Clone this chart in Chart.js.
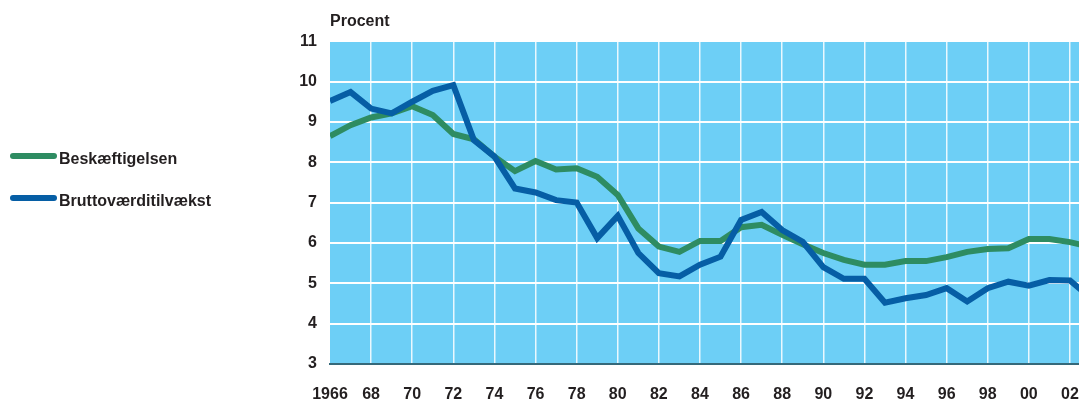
<!DOCTYPE html>
<html>
<head>
<meta charset="utf-8">
<script src="https://cdn.jsdelivr.net/npm/chart.js@4.4.1/dist/chart.umd.min.js"></script>
<style>
  html, body { margin: 0; padding: 0; background: #fff; overflow: hidden; }
  #wrap { position: relative; width: 1079px; height: 401px; }
  #legend { position: absolute; left: 10px; top: 0; font: bold 16px 'Liberation Sans', sans-serif; color: #231f20; }
  .item { position: absolute; left: 0; white-space: nowrap; height: 20px; line-height: 20px; }
  .swatch { position: absolute; left: 0; top: 7px; width: 47px; height: 6px; border-radius: 3px; }
  .item span.txt { position: absolute; left: 49px; top: 3px; }
</style>
</head>
<body>
<div id="wrap">
  <canvas id="chart" width="1079" height="401"></canvas>
  <div id="legend"></div>
</div>
<script>
const years = [1966, 1967, 1968, 1969, 1970, 1971, 1972, 1973, 1974, 1975, 1976, 1977, 1978,
  1979, 1980, 1981, 1982, 1983, 1984, 1985, 1986, 1987, 1988, 1989, 1990, 1991, 1992,
  1993, 1994, 1995, 1996, 1997, 1998, 1999, 2000, 2001, 2002, 2003];

const beskaeftigelsen = [8.65, 8.92, 9.11, 9.21, 9.39, 9.17, 8.70, 8.57, 8.14, 7.78, 8.03, 7.82, 7.85,
  7.64, 7.19, 6.36, 5.91, 5.78, 6.05, 6.05, 6.39, 6.45, 6.20, 5.97, 5.75, 5.58, 5.46,
  5.46, 5.55, 5.55, 5.65, 5.78, 5.85, 5.87, 6.10, 6.10, 6.02, 5.90];

const bruttovaerditilvaekst = [9.52, 9.74, 9.33, 9.21, 9.50, 9.77, 9.91, 8.55, 8.14, 7.35, 7.25, 7.06, 7.00,
  6.12, 6.67, 5.75, 5.25, 5.17, 5.46, 5.66, 6.57, 6.77, 6.32, 6.03, 5.40, 5.11, 5.11,
  4.52, 4.63, 4.71, 4.88, 4.55, 4.88, 5.04, 4.94, 5.08, 5.07, 4.64];

const seriesNames = ['Beskæftigelsen', 'Bruttoværditilvækst'];
const seriesColors = ['#2e8c62', '#065ea5'];

const yTicks = [3, 4, 5, 6, 7, 8, 9, 10, 11];

const textColor = '#231f20';
const plotBg = '#6dcff6';

Chart.defaults.font.family = "'Liberation Sans', sans-serif";
Chart.defaults.font.size = 16;
Chart.defaults.font.weight = 'bold';
Chart.defaults.color = textColor;

const plotBackground = {
  id: 'plotBackground',
  beforeDraw(chart) {
    const { ctx, chartArea } = chart;
    ctx.save();
    ctx.fillStyle = plotBg;
    ctx.fillRect(chartArea.left, chartArea.top, chartArea.right - chartArea.left, chartArea.bottom - chartArea.top);
    ctx.restore();
  }
};

const ctx = document.getElementById('chart').getContext('2d');
new Chart(ctx, {
  type: 'line',
  data: {
    labels: years,
    datasets: [
      {
        label: seriesNames[0],
        data: beskaeftigelsen,
        borderColor: seriesColors[0],
        borderWidth: 6,
        pointRadius: 0,
        tension: 0,
        fill: false,
        order: 1,
      },
      {
        label: seriesNames[1],
        data: bruttovaerditilvaekst,
        borderColor: seriesColors[1],
        borderWidth: 6,
        pointRadius: 0,
        tension: 0,
        fill: false,
        order: 0,
      },
    ],
  },
  options: {
    responsive: false,
    animation: false,
    layout: { padding: 0 },
    plugins: {
      legend: { display: false },
      tooltip: { enabled: false },
      title: {
        display: true,
        text: 'Procent',
        align: 'start',
        fullSize: false,
        color: textColor,
        font: { size: 16, weight: 'bold' },
        padding: { top: 12, bottom: 10 },
      },
    },
    scales: {
      x: {
        type: 'linear',
        min: 1966,
        max: 2002.44,
        grid: {
          color: c => (c.tick && c.tick.value === 1966 ? 'rgba(0,0,0,0)' : 'rgba(255,255,255,0.85)'),
          lineWidth: 1.5,
          drawTicks: false,
        },
        border: { display: true, color: '#35697a', width: 2 },
        ticks: {
          stepSize: 2,
          includeBounds: false,
          autoSkip: false,
          maxRotation: 0,
          padding: 21,
          callback: v => (v === 1966 ? '1966' : String(v % 100).padStart(2, '0')),
        },
        afterFit: s => { s.height = 37; s.paddingLeft = 0; s.paddingRight = 0; },
      },
      y: {
        min: 3,
        max: 11,
        afterBuildTicks: s => { s.ticks = yTicks.map(v => ({ value: v })); },
        grid: {
          color: c => (c.tick && c.tick.value === 3 ? 'rgba(0,0,0,0)' : '#ffffff'),
          lineWidth: 2,
          drawTicks: false,
        },
        border: { display: false },
        ticks: { padding: 13 },
        afterFit: s => { s.width = 330; },
      },
    },
  },
  plugins: [plotBackground],
});

// legend as html text
const legend = document.getElementById('legend');
const legendTops = [146, 188];
seriesNames.forEach((name, i) => {
  const item = document.createElement('div');
  item.className = 'item';
  item.style.top = legendTops[i] + 'px';
  const sw = document.createElement('div');
  sw.className = 'swatch';
  sw.style.background = seriesColors[i];
  const txt = document.createElement('span');
  txt.className = 'txt';
  txt.textContent = name;
  item.appendChild(sw);
  item.appendChild(txt);
  legend.appendChild(item);
});
</script>
</body>
</html>
